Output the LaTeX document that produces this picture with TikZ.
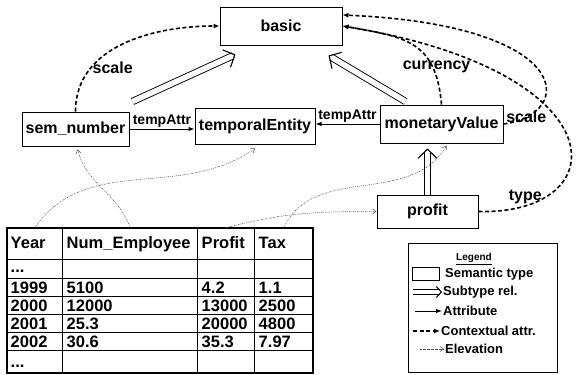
\documentclass[tikz,border=0pt]{standalone}
\usepackage{fontspec}
\setmainfont{Liberation Sans}
\usetikzlibrary{arrows.meta,positioning,matrix}

\begin{document}
\begin{tikzpicture}[x=1pt, y=-1pt,
    semtype/.style={draw, line width=1pt, inner sep=1pt, font=\fontsize{16}{19}\selectfont\bfseries},
    subtype/.style={double, double distance=5.5pt, line width=0.9pt, shorten >=3pt},
    subtip/.style={draw=white, line width=1pt, shorten <=12pt, -{Straight Barb[color=black, length=9pt, width=19pt, line width=1.1pt]}},
    attr/.style={line width=1pt, -{Latex[length=6pt, width=4.5pt]}},
    ctx/.style={line width=1.6pt, dash pattern=on 4pt off 2.5pt, -{Latex[length=6pt, width=5pt]}},
    elev/.style={line width=0.5pt, dash pattern=on 1.5pt off 1pt on 0.5pt off 1pt, draw=black!70, -{Straight Barb[length=3.5pt, width=5pt]}},
    ctxlbl/.style={font=\fontsize{16}{19}\selectfont\bfseries, inner sep=1pt},
    attrlbl/.style={font=\fontsize{14}{17}\selectfont\bfseries, inner sep=1pt},
    cell/.style={draw, line width=1.1pt, outer sep=0pt, inner xsep=4pt, inner ysep=0pt, align=left,
      text height=14.5pt, text depth=3.5pt, font=\fontsize{16.5}{19}\selectfont\bfseries},
    legtext/.style={font=\fontsize{13}{15}\selectfont\bfseries, inner sep=1pt, anchor=west}
  ]
    \useasboundingbox (0,0) rectangle (576,375);

    % semantic types
    \node[semtype, minimum width=122, minimum height=38] (basic) at (281,26) {basic};
    \node[semtype, minimum width=107, minimum height=34] (sem) at (75.5,129) {sem\_number};
    \node[semtype, minimum width=120, minimum height=36] (temp) at (255,126) {temporalEntity};
    \node[semtype, minimum width=123, minimum height=38] (mon) at (441.5,124) {monetaryValue};
    \node[semtype, minimum width=101, minimum height=33] (profit) at (427.5,211.5) {profit};

    % subtype relations
    \coordinate (semtip) at ([xshift=16pt, yshift=-9pt]basic.south west);
    \coordinate (montip) at ([xshift=-14pt, yshift=-10pt]basic.south east);
    \coordinate (proftip) at ([yshift=-5pt]profit.north |- mon.south);
    \draw[subtype] ([xshift=3pt, yshift=10pt]sem.north east) -- (semtip);
    \draw[subtip] ([xshift=3pt, yshift=10pt]sem.north east) -- (semtip);
    \draw[subtype] ([xshift=26pt, yshift=3pt]mon.north west) -- (montip);
    \draw[subtip] ([xshift=26pt, yshift=3pt]mon.north west) -- (montip);
    \draw[subtype] (profit.north) -- (proftip);
    \draw[subtip] (profit.north) -- (proftip);

    % attributes
    \draw[attr] (sem.east) -- (sem.east -| temp.west) node[attrlbl, midway, above] (ltemp1) {tempAttr};
    \draw[attr] (mon.west) -- (mon.west -| temp.east) node[attrlbl, midway, above] (ltemp2) {tempAttr};

    % contextual attributes
    \draw[ctx] (sem.north) to[out=90, in=180] node[ctxlbl, pos=0.27, right] (lscale1) {scale} (basic.west);
    \draw[ctx] (mon.north) to[out=95, in=-10, looseness=1.3] node[ctxlbl, pos=0.25, xshift=4pt] (lcur) {currency} (basic.east);
    \draw[ctx] (mon.east) .. controls +(73,-10) and +(233,10) .. node[ctxlbl, pos=0.12] (lscale2) {scale} ([yshift=11pt]basic.east);
    \draw[ctx] (profit.east) .. controls +(138,3.5) and +(280,46) .. node[ctxlbl, pos=0.13, above] (ltype) {type} (basic.east);

    % table
    \matrix (tbl) [matrix of nodes, nodes in empty cells, anchor=north west, inner sep=0pt,
      column sep=-1.1pt, row sep=-1.1pt, nodes={cell},
      column 1/.style={nodes={text width=48pt}},
      column 2/.style={nodes={text width=127pt}},
      column 3/.style={nodes={text width=49pt}},
      column 4/.style={nodes={text width=50pt}},
      row 1/.style={nodes={text height=21pt, text depth=11pt}},
      row 2/.style={nodes={text height=13pt, text depth=6pt}},
      row 7/.style={nodes={text height=17pt, text depth=5pt}}] at (6,227) {
      Year & Num\_Employee & Profit & Tax \\
      ... & & & \\
      1999 & 5100 & 4.2 & 1.1 \\
      2000 & 12000 & 13000 & 2500 \\
      2001 & 25.3 & 20000 & 4800 \\
      2002 & 30.6 & 35.3 & 7.97 \\
      ... & & & \\
    };
    \draw[line width=2.2pt] (tbl-1-1.north west) rectangle (tbl-7-4.south east);

    % elevation
    \draw[elev] (tbl-1-1.north) to[out=55, in=-145] ([yshift=-4pt]temp.south);
    \draw[elev] (tbl-1-2.north) to[out=110, in=-75] ([xshift=2pt, yshift=-3pt]sem.south);
    \draw[elev] (tbl-1-3.north) to[out=15, in=180] (profit.west);
    \draw[elev] (tbl-1-4.north) to[out=65, in=-120] ([xshift=5pt, yshift=-2pt]mon.south);

    % legend
    \node[draw, line width=1pt, minimum width=149, minimum height=129, inner sep=0pt] (legend) at (482.5,307.5) {};
    \node[font=\fontsize{10}{12}\selectfont\bfseries, inner sep=0pt] (legtitle) at (474,259) {\underline{Legend}};
    \node[legtext] (lsem) at (444,274) {Semantic type};
    \node[draw, line width=1pt, minimum width=27, minimum height=13, inner sep=0pt, left=4pt of lsem] (lbox) {};
    \node[legtext] (lsub) at (442,292) {Subtype rel.};
    \draw[subtype, double distance=3.5pt, shorten >=2pt] ([xshift=-29pt]lsub.west) -- (lsub.west);
    \draw[subtip, shorten <=15pt, -{Straight Barb[color=black, length=5pt, width=11pt, line width=1pt]}] ([xshift=-29pt]lsub.west) -- (lsub.west);
    \node[legtext] (lattr) at (442,311) {Attribute};
    \draw[attr] ([xshift=-27pt]lattr.west) -- (lattr.west);
    \node[legtext] (lctx) at (440,331) {Contextual attr.};
    \draw[ctx] ([xshift=-27pt]lctx.west) -- (lctx.west);
    \node[legtext] (lelev) at (444,349) {Elevation};
    \draw[elev] ([xshift=-24pt]lelev.west) -- (lelev.west);
  \end{tikzpicture}
\end{document}
